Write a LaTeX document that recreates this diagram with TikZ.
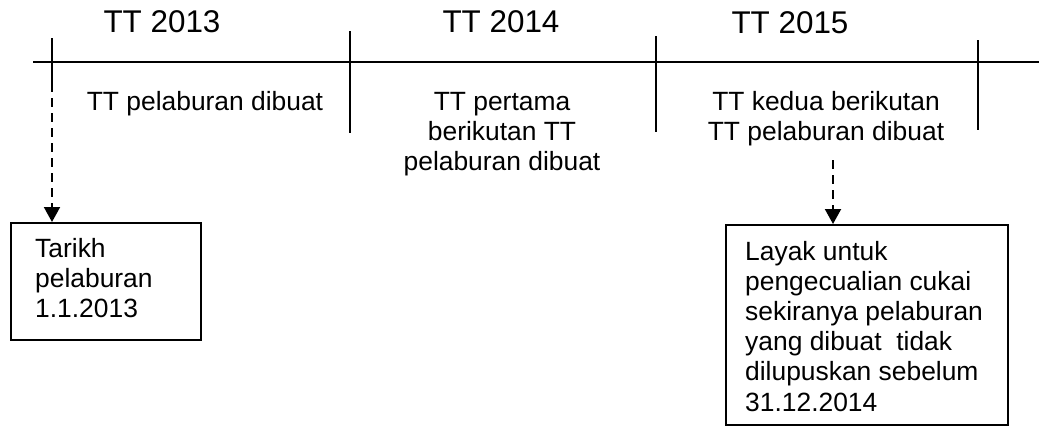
\documentclass[tikz,border=0pt]{standalone}
\usepackage{fontspec}
\setmainfont{Liberation Sans}
\usetikzlibrary{arrows.meta}
\tikzset{
  axis/.style={line width=2pt},
  tick/.style={line width=1.6pt},
  dasharrow/.style={line width=2pt, dash pattern=on 9pt off 6pt, -{Triangle[width=16pt,length=15pt]}},
  box/.style={draw, line width=2pt, inner sep=0pt, anchor=north west},
  title/.style={inner sep=0pt, anchor=base, font=\fontsize{31.4}{36}\selectfont},
  lab/.style={inner sep=0pt, anchor=base, font=\fontsize{26.4}{30}\selectfont},
  boxtxt/.style={inner sep=0pt, anchor=base west, font=\fontsize{26.4}{30}\selectfont}
}
\begin{document}
\begin{tikzpicture}[x=1pt,y=-1pt]
\useasboundingbox (0,0) rectangle (1039,426);
% axis
\coordinate (axL) at (33,62);
\coordinate (axR) at (1039,62);
\draw[axis] (axL) -- (axR);
% ticks
\coordinate (t1a) at (52,38);  \coordinate (t1b) at (52,83);
\coordinate (t2a) at (350,31); \coordinate (t2b) at (350,133);
\coordinate (t3a) at (656,36); \coordinate (t3b) at (656,132);
\coordinate (t4a) at (978,40); \coordinate (t4b) at (978,130);
\draw[tick] (t1a) -- (t1b);
\draw[tick] (t2a) -- (t2b);
\draw[tick] (t3a) -- (t3b);
\draw[tick] (t4a) -- (t4b);
% titles
\node[title] (y13) at (162,32) {TT 2013};
\node[title] (y14) at (501,32) {TT 2014};
\node[title] (y15) at (790,33) {TT 2015};
% period labels
\node[lab] (p1) at (205,110) {TT pelaburan dibuat};
\node[lab] (p2a) at (502,110) {TT pertama};
\node[lab] (p2b) at (502,140) {berikutan TT};
\node[lab] (p2c) at (502,170) {pelaburan dibuat};
\node[lab] (p3a) at (826,110) {TT kedua berikutan};
\node[lab] (p3b) at (826,140) {TT pelaburan dibuat};
\coordinate (a2s) at (833,160);
% boxes
\node[box, minimum width=190pt, minimum height=117pt] (b1) at (10,222) {};
\node[box, minimum width=282pt, minimum height=200pt] (b2) at (725,224) {};
\node[boxtxt] (b1l1) at (35,257) {Tarikh};
\node[boxtxt] (b1l2) at (35,287) {pelaburan};
\node[boxtxt] (b1l3) at (35,317) {1.1.2013};
\node[boxtxt] (b2l1) at (745,260) {Layak untuk};
\node[boxtxt] (b2l2) at (745,290) {pengecualian cukai};
\node[boxtxt] (b2l3) at (745,320) {sekiranya pelaburan};
\node[boxtxt] (b2l4) at (745,350) {yang dibuat\ \ tidak};
\node[boxtxt] (b2l5) at (745,380) {dilupuskan sebelum};
\node[boxtxt] (b2l6) at (745,411) {31.12.2014};
% arrows
\draw[dasharrow] (t1b) -- (b1.north -| t1b);
\draw[dasharrow] (a2s) -- (b2.north -| a2s);
\end{tikzpicture}
\end{document}
